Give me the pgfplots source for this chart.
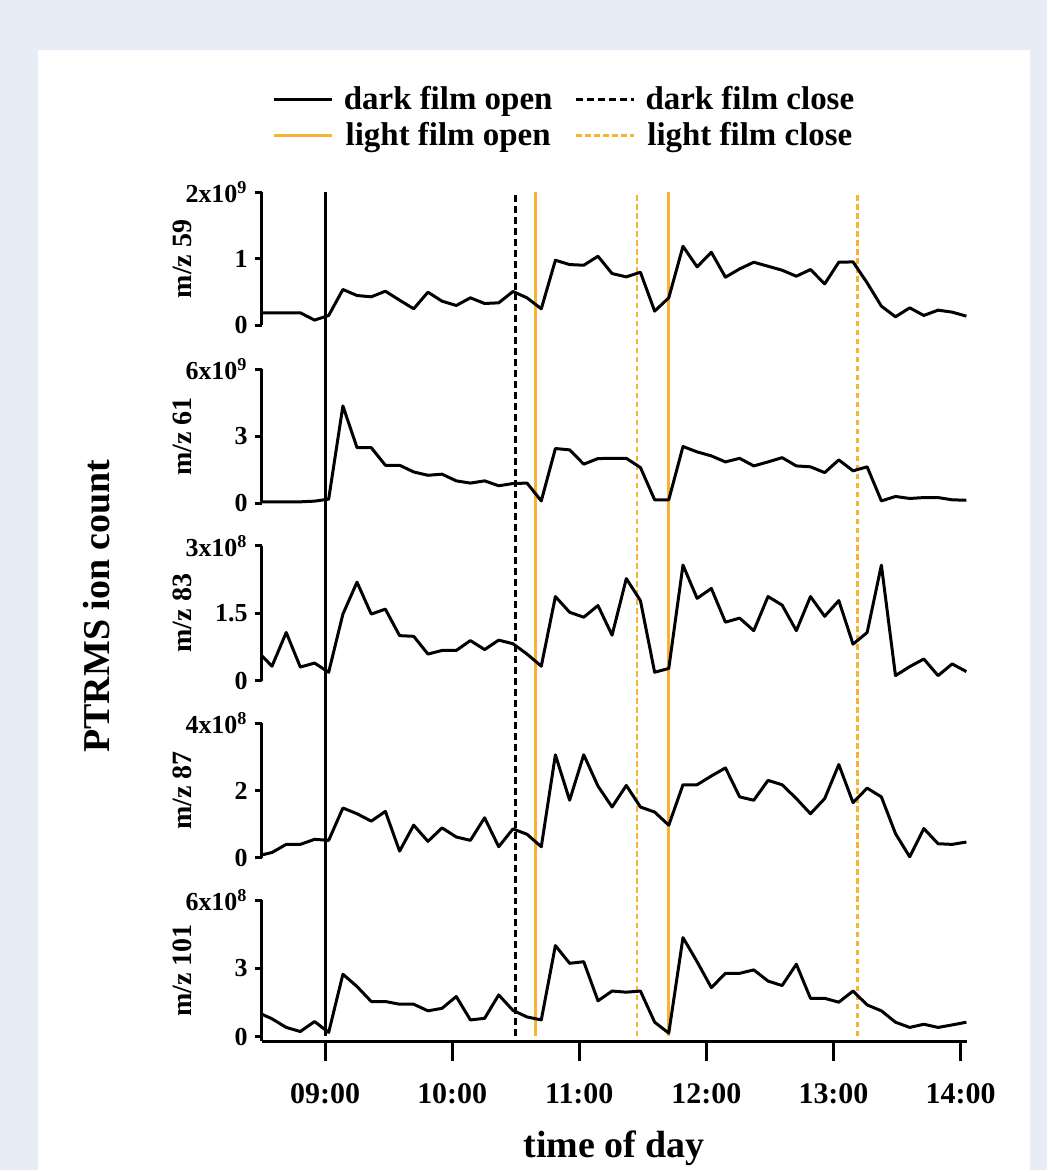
\documentclass[border=0pt]{standalone}
\usepackage{fontspec}
\setmainfont{Liberation Serif}
\usepackage{pgfplots}
\usepackage{pgfplotstable}
\pgfplotsset{compat=1.18}
\definecolor{bgblue}{RGB}{232,236,247}
\definecolor{filmorange}{RGB}{250,178,50}

% time (h), ion counts: m59 (1e9), m61 (1e9), m83 (1e8), m87 (1e8), m101 (1e8)
\pgfplotstableread{
t      m59   m61  m83   m87  m101
8.471  0.19  0.06 0.64  0.06 1.06
8.582  0.19  0.06 0.32  0.16 0.78
8.694  0.19  0.06 1.07  0.40 0.40
8.805  0.19  0.06 0.30  0.40 0.22
8.917  0.08  0.09 0.39  0.55 0.66
9.028  0.15  0.18 0.185 0.52 0.18
9.140  0.54  4.36 1.48  1.48 2.74
9.251  0.45  2.49 2.19  1.31 2.20
9.363  0.43  2.49 1.48  1.09 1.54
9.474  0.515 1.70 1.59  1.38 1.54
9.586  0.38  1.70 1.00  0.20 1.42
9.697  0.25  1.40 0.985 0.97 1.42
9.809  0.50  1.25 0.59  0.49 1.13
9.920  0.365 1.30 0.67  0.89 1.24
10.032 0.30  1.00 0.67  0.62 1.76
10.143 0.415 0.90 0.89  0.52 0.73
10.255 0.33  1.00 0.69  1.19 0.80
10.366 0.34  0.78 0.90  0.33 1.83
10.478 0.51  0.88 0.82  0.86 1.15
10.589 0.415 0.90 0.59  0.70 0.86
10.701 0.25  0.10 0.32  0.33 0.73
10.812 0.98  2.45 1.87  3.06 4.00
10.924 0.915 2.39 1.52  1.71 3.22
11.035 0.905 1.75 1.41  3.06 3.29
11.147 1.04  2.00 1.67  2.13 1.57
11.258 0.78  2.01 1.01  1.51 2.00
11.370 0.73  2.01 2.27  2.15 1.95
11.481 0.80  1.60 1.78  1.51 2.00
11.593 0.215 0.15 0.185 1.36 0.63
11.704 0.415 0.15 0.27  0.97 0.15
11.816 1.19  2.54 2.57  2.17 4.35
11.927 0.88  2.30 1.83  2.17 3.29
12.039 1.10  2.12 2.05  2.43 2.15
12.150 0.725 1.85 1.30  2.67 2.78
12.262 0.85  2.01 1.39  1.81 2.78
12.373 0.95  1.67 1.11  1.71 2.93
12.485 0.89  1.85 1.87  2.30 2.44
12.596 0.83  2.04 1.68  2.17 2.24
12.708 0.74  1.67 1.11  1.76 3.18
12.819 0.84  1.63 1.87  1.31 1.68
12.931 0.625 1.37 1.43  1.76 1.68
13.042 0.95  1.94 1.78  2.77 1.51
13.154 0.955 1.45 0.81  1.64 2.00
13.265 0.64  1.63 1.07  2.07 1.39
13.377 0.29  0.10 2.57  1.81 1.13
13.488 0.13  0.30 0.11  0.72 0.63
13.600 0.265 0.21 0.31  0.03 0.40
13.711 0.15  0.25 0.48  0.87 0.54
13.823 0.23  0.25 0.11  0.42 0.40
13.934 0.20  0.15 0.37  0.40 0.51
14.046 0.14  0.13 0.20  0.47 0.63
}\ions

\pgfplotsset{
  panel/.style={
    scale only axis, width=353.25pt,
    xmin=8.5, xmax=14.05,
    axis lines=left,
    axis line style={line width=1.5pt,-},
    tick align=outside, major tick length=3.5pt,
    every tick/.append style={black,line width=1.5pt},
    yticklabel style={font=\fontsize{13}{13}\selectfont\bfseries},
    ylabel style={font=\fontsize{14}{14}\selectfont\bfseries,
      at={(axis description cs:-0.1118,0.5)}, anchor=center},
    scaled y ticks=false,
  },
  upper/.style={panel, xtick=\empty, x axis line style={draw=none}},
  trace/.style={black, line width=1.5pt, line join=round},
}

\begin{document}
\begin{tikzpicture}
\fill[bgblue] (0pt,0pt) rectangle (524.5pt,586pt);
\fill[white] (19pt,0pt) rectangle (516pt,561pt);

% event lines and legend
\begin{axis}[scale only axis, width=353.25pt, height=422.65pt,
  at={(131pt,67pt)}, anchor=south west,
  xmin=8.5, xmax=14.05, ymin=0, ymax=1, hide axis,
  legend columns=2,
  legend style={draw=none, fill=none, at={(0.431,1.0885)}, anchor=center,
    font=\fontsize{16.5}{19}\selectfont\bfseries,
    row sep=1pt,
    /tikz/every odd column/.append style={column sep=3pt},
    /tikz/every even column/.append style={column sep=9pt}},
  legend image code/.code={\draw[#1] (0pt,0pt) -- (29pt,0pt);},
]
\addplot[black, line width=1.5pt] coordinates {(9,0) (9,1)};
\addplot[black, line width=1.6pt, dash pattern=on 3.5pt off 2pt] coordinates {(10.5,0) (10.5,1)};
\addplot[filmorange, line width=1.4pt] coordinates {(10.655,0) (10.655,1)};
\addplot[filmorange, line width=1.4pt, dash pattern=on 2.8pt off 1.7pt] coordinates {(11.454,0) (11.454,1)};
\addplot[filmorange, line width=1.4pt, forget plot] coordinates {(11.70,0) (11.70,1)};
\addplot[filmorange, line width=1.4pt, dash pattern=on 2.8pt off 1.7pt, forget plot] coordinates {(13.19,0) (13.19,1)};
\legend{dark film open, dark film close, light film open, light film close}
\end{axis}

\begin{axis}[upper, at={(131pt,423pt)}, anchor=south west, height=66.65pt,
  ymin=0, ymax=2, ytick={0,1,2}, yticklabels={0,1,{2x10\textsuperscript{9}}},
  ylabel={m/z 59}]
\addplot[trace] table[x=t, y=m59] {\ions};
\end{axis}

\begin{axis}[upper, at={(131pt,334pt)}, anchor=south west, height=67pt,
  ymin=0, ymax=6, ytick={0,3,6}, yticklabels={0,3,{6x10\textsuperscript{9}}},
  ylabel={m/z 61}]
\addplot[trace] table[x=t, y=m61] {\ions};
\end{axis}

\begin{axis}[upper, at={(131pt,245.15pt)}, anchor=south west, height=67.5pt,
  ymin=0, ymax=3, ytick={0,1.5,3}, yticklabels={0,1.5,{3x10\textsuperscript{8}}},
  ylabel={m/z 83}]
\addplot[trace] table[x=t, y=m83] {\ions};
\end{axis}

\begin{axis}[upper, at={(131pt,156.35pt)}, anchor=south west, height=67.5pt,
  ymin=0, ymax=4, ytick={0,2,4}, yticklabels={0,2,{4x10\textsuperscript{8}}},
  ylabel={m/z 87}]
\addplot[trace] table[x=t, y=m87] {\ions};
\end{axis}

\begin{axis}[panel, at={(131pt,64.6pt)}, anchor=south west, height=70.6pt,
  ymin=-0.2, ymax=6, ytick={0,3,6}, yticklabels={0,3,{6x10\textsuperscript{8}}},
  ylabel={m/z 101},
  xtick={9,10,11,12,13,14},
  xticklabels={09:00,10:00,11:00,12:00,13:00,14:00},
  xtick style={/pgfplots/major tick length=10pt},
  xticklabel style={font=\fontsize{15}{15}\selectfont\bfseries, anchor=center, yshift=-23pt},
  xlabel={time of day},
  xlabel style={font=\fontsize{19}{19}\selectfont\bfseries,
    at={(axis description cs:0.5,0)}, anchor=center, yshift=-53.5pt},
]
\addplot[trace] table[x=t, y=m101] {\ions};
\end{axis}

\node[rotate=90, font=\fontsize{19}{19}\selectfont\bfseries] at (48.5pt,282.5pt) {PTRMS ion count};
\end{tikzpicture}
\end{document}
